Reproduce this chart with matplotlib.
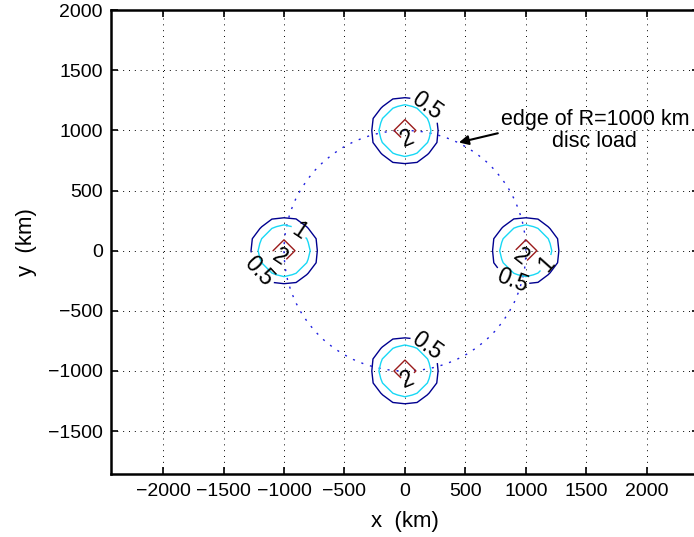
import numpy as np
import matplotlib
matplotlib.use("Agg")
import matplotlib.pyplot as plt
from matplotlib.patches import Circle

plt.rcParams['font.family'] = ['Liberation Sans', 'DejaVu Sans']

# point load centres (km)
peak_x = [0, 0, -1000, 1000]
peak_y = [1000, -1000, 0, 0]

# radial profile (km, value)
profile_r = [0, 100, 200, 300, 400, 3000]
profile_v = [5.0, 1.6, 1.05, 0.2, 0.05, 0.0]

levels = [0.5, 1, 2]
level_colors = ['#00008f', '#18d8f5', '#9b1c1c']

disc_R = 1000

# grid, 100 km spacing
gx = np.arange(-2400, 2401, 100)
gy = np.arange(-2400, 2401, 100)
X, Y = np.meshgrid(gx, gy)
Z = np.zeros_like(X, dtype=float)
for px, py in zip(peak_x, peak_y):
    d = np.hypot(X - px, Y - py)
    Z += np.interp(d, profile_r, profile_v)

# label spots (km) per level
label_pos = {
    0.5: [(165, 1175), (-1190, -150), (893, -233), (165, -825)],
    1: [(-884, 150), (1157, -83)],
    2: [(25, 925), (-1025, -42), (959, -42), (25, -1075)],
}

fig = plt.figure(figsize=(6.94, 5.37), dpi=100)
ax = fig.add_axes([0.16, 0.117, 0.847, 0.864])

ax.grid(True, color='black', linestyle=(0, (1, 5)), linewidth=0.7)
ax.set_axisbelow(True)

for lev, col in zip(levels, level_colors):
    cs = ax.contour(X, Y, Z, levels=[lev], colors=[col], linewidths=1.0)
    ax.clabel(cs, fmt='%g', manual=label_pos[lev], inline=True,
              inline_spacing=2, fontsize=16.5, colors='black')

ax.add_patch(Circle((0, 0), disc_R, fill=False, edgecolor='#2020e0',
                    linestyle=(0, (1.5, 5)), linewidth=1.0))

ax.annotate("edge of R=1000 km\ndisc load", xy=(446, 900), xytext=(1570, 1000),
            ha='center', va='center', fontsize=15.5, linespacing=1.05,
            arrowprops=dict(arrowstyle='-|>', color='black', lw=1.5,
                            shrinkA=0, shrinkB=0, mutation_scale=14,
                            relpos=(0, 0.45)))

ax.set_xlim(-2430, 2430)
ax.set_ylim(-1858, 2000)
ax.set_xticks(np.arange(-2000, 2001, 500))
ax.set_yticks(np.arange(-1500, 2001, 500))
ax.tick_params(axis='both', direction='in', length=5, width=1.2,
               top=True, right=True, labelsize=14, pad=6)
for s in ax.spines.values():
    s.set_linewidth(1.8)

ax.set_xlabel("x  (km)", fontsize=16, labelpad=8)
ax.set_ylabel("y  (km)", fontsize=16, labelpad=8)

fig.savefig("out.png", dpi=100)
